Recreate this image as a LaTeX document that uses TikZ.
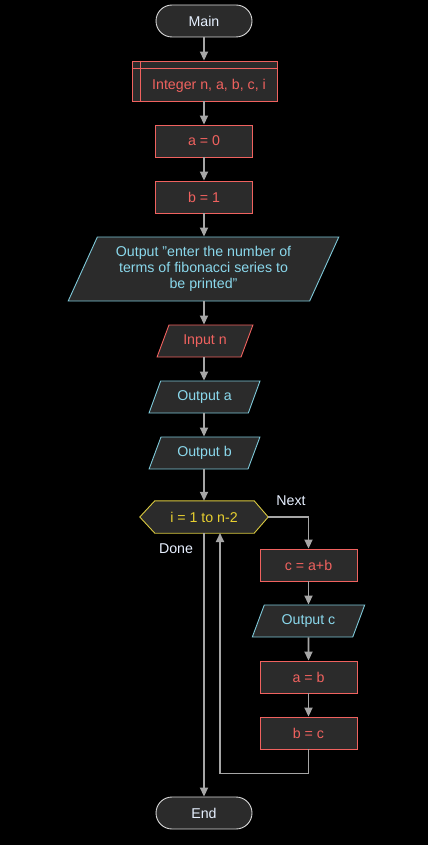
\documentclass[tikz,border=0pt]{standalone}
\usepackage{fontspec}
\setmainfont{Liberation Sans}
\usetikzlibrary{shapes.geometric,arrows.meta,calc}
\definecolor{boxfill}{HTML}{2B2B2B}
\definecolor{termc}{HTML}{D8D8D8}
\definecolor{termtext}{HTML}{E6F0FF}
\definecolor{redc}{HTML}{F0625F}
\definecolor{cyanc}{HTML}{7EC8D8}
\definecolor{cyantext}{HTML}{8AD8EC}
\definecolor{yelc}{HTML}{D8C840}
\definecolor{yeltext}{HTML}{E8D030}
\definecolor{arrc}{HTML}{A6A6A6}
\definecolor{labc}{HTML}{E8F0FF}
\pgfdeclarelayer{back}
\pgfsetlayers{back,main}
\begin{document}
\begin{tikzpicture}[x=1pt,y=-1pt,
  every node/.style={font=\fontsize{14.2}{16}\selectfont, inner sep=0pt},
  term/.style={draw=termc, fill=boxfill, rounded corners=16pt, minimum width=96pt, minimum height=32pt, text=termtext, line width=0.9pt},
  proc/.style={draw=redc, fill=boxfill, minimum width=97pt, minimum height=32pt, text=redc, line width=0.9pt},
  io/.style={trapezium, trapezium left angle=60.6, trapezium right angle=119.4, trapezium stretches=true, draw=cyanc, fill=boxfill, text=cyantext, minimum height=32pt, line width=0.9pt},
  inbox/.style={io, draw=redc, text=redc},
  hexline/.style={draw=yelc, fill=boxfill, line width=0.9pt},
  lab/.style={text=labc},
  arrow/.style={draw=arrc, line width=1.8pt, -{Triangle[width=8pt,length=9pt]}},
  line/.style={draw=arrc, line width=1.8pt}
]
\useasboundingbox (0,0) rectangle (428,845);
\begin{pgfonlayer}{back}
\fill[black] (0,0) rectangle (428,845);
\end{pgfonlayer}

\node[term] (main) at (204,21) {Main};
\node[proc, minimum width=145pt, minimum height=40pt, text height=18pt, text depth=0.7pt] (decl) at (204.5,81) {\hspace*{9pt}Integer n, a, b, c, i};
\draw[redc, line width=0.9pt] ($(decl.north west)+(0,8)$) -- ($(decl.north east)+(0,8)$);
\draw[redc, line width=0.9pt] ($(decl.north west)+(9,0)$) -- ($(decl.south west)+(9,0)$);
\node[proc] (a0) at (204,141) {a = 0};
\node[proc] (b1) at (204,197) {b = 1};
\node[io, trapezium left angle=62, trapezium right angle=118, minimum width=271pt, minimum height=64pt, align=center] (out1) at (203.5,269) {Output "enter the number of\\terms of fibonacci series to\\be printed"};
\node[inbox, minimum width=96pt] (inn) at (205,341) {Input n};
\node[io, minimum width=111pt] (outa) at (204.5,397) {Output a};
\node[io, minimum width=111pt] (outb) at (204.5,453) {Output b};
\node[minimum width=128pt, minimum height=32pt, text=yeltext] (hex) at (204,517) {i = 1 to n-2};
\begin{pgfonlayer}{back}
\draw[hexline] (hex.west) -- ($(hex.north west)+(15,0)$) -- ($(hex.north east)+(-14,0)$) -- (hex.east) -- ($(hex.south east)+(-14,0)$) -- ($(hex.south west)+(15,0)$) -- cycle;
\end{pgfonlayer}
\node[lab] (next) at (291,501) {Next};
\node[lab] (done) at (176,549) {Done};
\node[proc] (cab) at (308.5,565) {c = a+b};
\node[io, minimum width=113pt] (outc) at (308.5,621) {Output c};
\node[proc] (ab) at (308.5,677) {a = b};
\node[proc] (bc) at (308.5,733) {b = c};
\node[term] (end) at (204,813) {End};
\coordinate (loopin) at (220,533);

\draw[arrow] (main) -- (main |- decl.north);
\draw[arrow] (decl.south -| main) -- (a0);
\draw[arrow] (a0) -- (b1);
\draw[arrow] (b1) -- (b1 |- out1.north);
\draw[arrow] (out1.south -| b1) -- (b1 |- inn.north);
\draw[arrow] (inn.south -| b1) -- (b1 |- outa.north);
\draw[arrow] (outa.south -| b1) -- (b1 |- outb.north);
\draw[arrow] (outb.south -| b1) -- (hex);
\draw[arrow] (hex.east) -| (cab.north);
\draw[arrow] (cab) -- (outc);
\draw[arrow] (outc) -- (ab);
\draw[arrow] (ab) -- (bc);
\draw[arrow] (bc.south) -- ++(0,24) -| (loopin);
\draw[arrow] (hex.south) -- (end.north);
\end{tikzpicture}
\end{document}
